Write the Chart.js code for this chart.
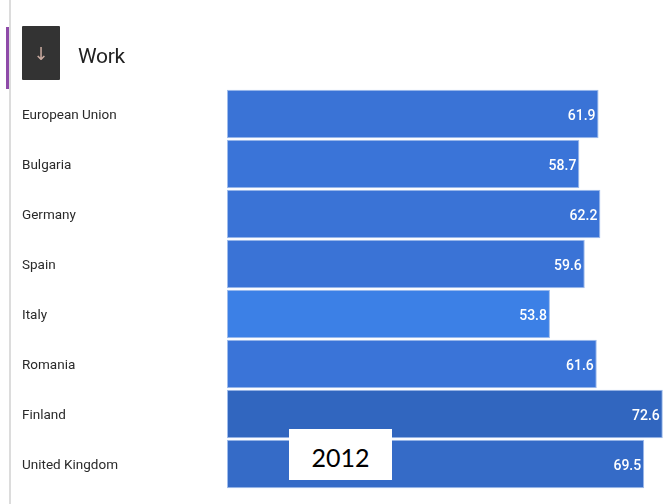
<!DOCTYPE html>
<html>
<head>
<meta charset="utf-8">
<script src="https://cdn.jsdelivr.net/npm/chart.js@4"></script>
<style>
  html, body { margin: 0; padding: 0; background: #fff; }
  #wrap { position: relative; width: 670px; height: 504px; overflow: hidden; }
  #greyLine { position: absolute; left: 9px; top: 0; width: 2px; height: 504px; background: #dcdcdc; }
  #purpleLine { position: absolute; left: 6px; top: 27px; width: 3px; height: 62px; background: #8e4aa8; }
  #iconBox { position: absolute; left: 22px; top: 26px; width: 38px; height: 54px; background: #333; border-radius: 1px;
             color: #c9aaa0; font: 18px "DejaVu Sans"; text-align: center; line-height: 56px; }
  #title { position: absolute; left: 78px; top: 44px; font: 21px Roboto, sans-serif; color: #222; letter-spacing: -0.3px; }
  #yearBox { position: absolute; left: 289px; top: 429px; width: 103px; height: 51px; background: #fff;
             font: 25px Lato, sans-serif; color: #000; text-align: center; line-height: 56px; }
</style>
</head>
<body>
<div id="wrap">
  <canvas id="myChart" width="670" height="504"></canvas>
  <div id="greyLine"></div>
  <div id="purpleLine"></div>
  <div id="iconBox">↓</div>
  <div id="title">Work</div>
  <div id="yearBox">2012</div>
</div>
<script>
const countries = ['European Union', 'Bulgaria', 'Germany', 'Spain', 'Italy', 'Romania', 'Finland', 'United Kingdom'];
const workValues = [61.9, 58.7, 62.2, 59.6, 53.8, 61.6, 72.6, 69.5];
const barColors = ['#3a73d6', '#3a74d8', '#3a73d6', '#3a73d6', '#3c80e6', '#3a74d8', '#3166bf', '#356bc7'];

const valueLabels = {
  id: 'valueLabels',
  afterDatasetsDraw(chart) {
    const ctx = chart.ctx;
    const meta = chart.getDatasetMeta(0);
    ctx.save();
    ctx.fillStyle = '#ffffff';
    ctx.font = '500 14px Roboto';
    ctx.textAlign = 'right';
    ctx.textBaseline = 'middle';
    meta.data.forEach((bar, i) => {
      ctx.fillText(workValues[i].toFixed(1), bar.x - 3, bar.y + 2);
    });
    ctx.restore();
  }
};

const ctx = document.getElementById('myChart').getContext('2d');
new Chart(ctx, {
  type: 'bar',
  data: {
    labels: countries,
    datasets: [{
      data: workValues,
      backgroundColor: barColors,
      borderColor: '#9fbcec',
      borderWidth: 1,
      borderSkipped: false,
      barPercentage: 0.97,
      categoryPercentage: 1
    }]
  },
  options: {
    indexAxis: 'y',
    responsive: false,
    animation: false,
    layout: { padding: { left: 22, top: 89, bottom: 15, right: 0 } },
    plugins: { legend: { display: false }, tooltip: { enabled: false } },
    scales: {
      x: { display: false, min: 0, max: 73.8 },
      y: {
        grid: { display: false },
        border: { display: false },
        ticks: {
          crossAlign: 'far',
          color: '#2a2a2a',
          padding: 0,
          labelOffset: 2,
          font: { family: 'Roboto', size: 13.5 }
        },
        afterFit(scale) { scale.width = 205; }
      }
    }
  },
  plugins: [valueLabels]
});
</script>
</body>
</html>
